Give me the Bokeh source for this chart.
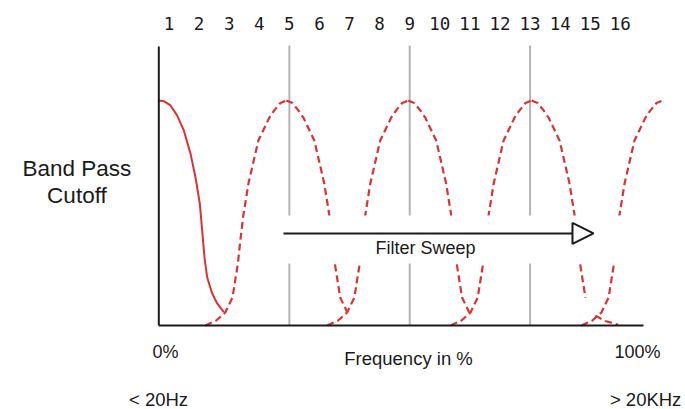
import numpy as np
from bokeh.plotting import figure
from bokeh.models import Range1d, Arrow, NormalHead
from bokeh.core.properties import value
from bokeh.embed import file_html
from bokeh.resources import INLINE

# ---- data (x in filter-step units, y in relative level 0..1) ----
steps = list(range(1, 17))
step_labels = [str(k) for k in steps]
marked_steps = [5, 9, 13]

axis_start = 0.661
axis_end = 16.77
axis_top = 1.24
marker_top = 1.244

# low-pass cutoff curve (solid)
cut_x = [0.661, 0.827, 1.050, 1.273, 1.492, 1.715, 1.881, 2.024, 2.103, 2.180, 2.270, 2.436, 2.602, 2.821]
cut_y = [1.0, 0.997, 0.978, 0.933, 0.867, 0.764, 0.658, 0.542, 0.422, 0.302, 0.213, 0.142, 0.098, 0.059]

# band-pass hump profile: offset from centre (steps) vs level
prof_off = [0.0, 0.20, 0.40, 0.565, 0.93, 1.06, 1.26, 1.43, 1.53, 1.61, 1.79, 2.03, 2.33, 2.69]
prof_lvl = [1.0, 0.989, 0.956, 0.924, 0.822, 0.747, 0.631, 0.489, 0.378, 0.276, 0.124, 0.058, 0.022, 0.0]
hump_centers = [4.9, 8.95, 13.05, 17.4]
fall_stop = [0.058, 0.058, 0.124, None]   # level where falling side stops (None = not drawn)
tail3_x = [15.17, 15.5, 15.93]
tail3_y = [0.044, 0.02, 0.003]

# label box / sweep arrow
box_left, box_right, box_bottom, box_top = 4.706, 16.34, 0.276, 0.489
arrow_x0, arrow_x1, arrow_y = 4.805, 15.107, 0.409

RED = "#dc3232"
INK = "#1a1a1a"
GRAY = "#b4b4b4"

p = figure(width=685, height=409, x_range=Range1d(-4.600, 18.165),
           y_range=Range1d(-0.37333, 1.44444), x_axis_type=None, y_axis_type=None,
           min_border=0, toolbar_location=None, output_backend="svg",
           outline_line_color=None, background_fill_color="white")

# marker lines at steps 5, 9, 13
p.segment(x0=marked_steps, y0=[0] * 3, x1=marked_steps, y1=[marker_top] * 3,
          line_color=GRAY, line_width=2)

# cutoff curve
p.line(cut_x, cut_y, line_color=RED, line_width=2)

# humps
off = np.array(prof_off)
lvl = np.array(prof_lvl)
for c, stop in zip(hump_centers, fall_stop):
    p.line(c - off[::-1], lvl[::-1], line_color=RED, line_width=2.2, line_dash="7 4")
    if stop is not None:
        m = lvl >= stop - 1e-9
        p.line(c + off[m], lvl[m], line_color=RED, line_width=2.2, line_dash="7 4")
p.line(tail3_x, tail3_y, line_color=RED, line_width=2.2, line_dash="7 4")

# axes
p.segment(x0=[axis_start, axis_start], y0=[0, 0], x1=[axis_start, axis_end], y1=[axis_top, 0],
          line_color=INK, line_width=2)

# white label box
p.quad(left=[box_left], right=[box_right], bottom=[box_bottom], top=[box_top],
       fill_color="white", line_color=None)

p.add_layout(Arrow(end=NormalHead(size=21, fill_color="white", line_color=INK, line_width=2),
                   x_start=arrow_x0, y_start=arrow_y, x_end=arrow_x1, y_end=arrow_y,
                   line_color=INK, line_width=2))

# step numbers
p.text(x=steps, y=[1.344] * 16, text=step_labels, text_font=value("DejaVu Sans Mono"),
       text_font_size="17.5px", text_align="center", text_baseline="middle", text_color=INK)

sans = value("Liberation Sans")
p.text(x=[9.524], y=[0.344], text=["Filter Sweep"], text_font=sans, text_font_size="18px",
       text_align="center", text_baseline="middle", text_color=INK)
p.text(x=[0.884, 16.57], y=[-0.118, -0.118], text=["0%", "100%"], text_font=sans,
       text_font_size="18px", text_align="center", text_baseline="middle", text_color=INK)
p.text(x=[8.96], y=[-0.147], text=["Frequency in %"], text_font=sans, text_font_size="18.5px",
       text_align="center", text_baseline="middle", text_color=INK)
p.text(x=[0.651, 16.84], y=[-0.327, -0.327], text=["< 20Hz", "> 20KHz"], text_font=sans,
       text_font_size="18.5px", text_align="center", text_baseline="middle", text_color=INK)
p.text(x=[-2.06, -2.06], y=[0.696, 0.578], text=["Band Pass", "Cutoff"], text_font=sans,
       text_font_size="22.5px", text_align="center", text_baseline="middle", text_color=INK)

open("out.html", "w").write(file_html(p, INLINE))
